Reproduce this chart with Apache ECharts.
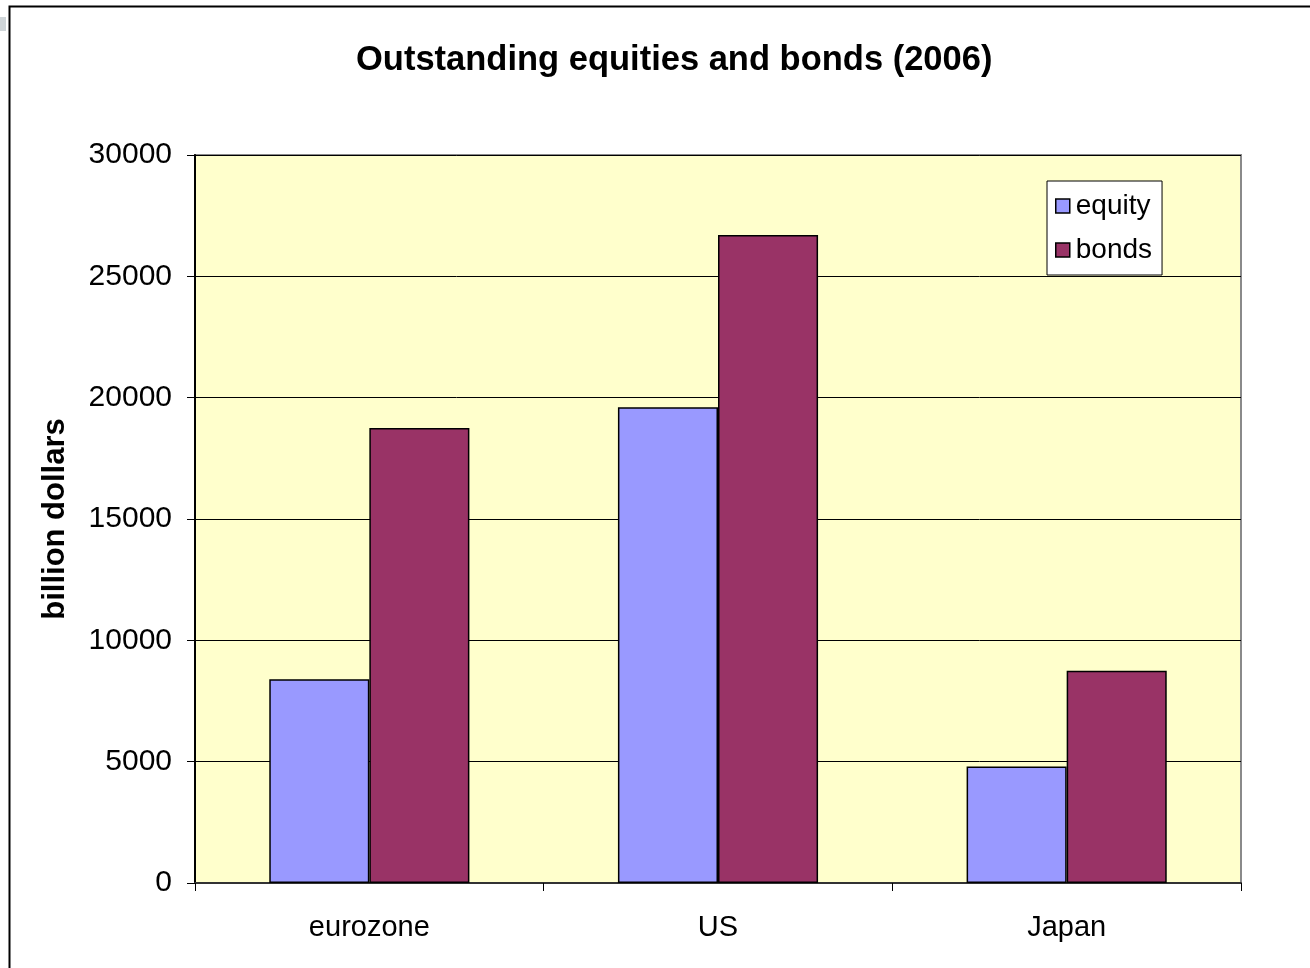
<!DOCTYPE html>
<html>
<head>
<meta charset="utf-8">
<script src="https://cdn.jsdelivr.net/npm/echarts@6/dist/echarts.min.js"></script>
<style>
  html, body { margin: 0; padding: 0; background: #fff; }
  #chart { width: 1310px; height: 968px; }
</style>
</head>
<body>
<div id="chart"></div>
<script>
const regions = ['eurozone', 'US', 'Japan'];
const equity = [8400, 19600, 4800];
const bonds = [18750, 26700, 8750];
const yTicks = { min: 0, max: 30000, interval: 5000 };

const chart = echarts.init(document.getElementById('chart'));
const font = 'Liberation Sans, Arial, sans-serif';

chart.setOption({
    backgroundColor: '#fff',
    animation: false,
    title: {
        text: 'Outstanding equities and bonds (2006)',
        left: 351,
        top: 38,
        textStyle: { fontFamily: font, fontSize: 34.5, fontWeight: 'bold', color: '#000' }
    },
    graphic: [
        { type: 'rect', left: 7, top: 4, shape: { width: 1400, height: 1100 },
          style: { fill: 'none', stroke: '#000', lineWidth: 2 }, z: 100 },
        { type: 'rect', left: 0, top: 17, shape: { width: 6, height: 14 },
          style: { fill: '#cfd5d8' }, z: 100 }
    ],
    legend: {
        orient: 'vertical',
        left: 1047,
        top: 181,
        padding: [11, 10, 11, 8],
        itemGap: 16,
        itemWidth: 14,
        itemHeight: 14,
        borderColor: '#000',
        borderWidth: 1,
        backgroundColor: '#fff',
        textStyle: { fontFamily: font, fontSize: 28, color: '#000', padding: [0, 0, 0, 1] },
        data: [
            { name: 'equity', icon: 'rect', itemStyle: { borderColor: '#000', borderWidth: 1.5 } },
            { name: 'bonds', icon: 'rect', itemStyle: { borderColor: '#000', borderWidth: 1.5 } }
        ]
    },
    grid: {
        left: 195,
        right: 69,
        top: 155,
        bottom: 85,
        show: true,
        backgroundColor: '#FFFFCC',
        borderColor: '#8a8a8a',
        borderWidth: 2
    },
    xAxis: {
        type: 'category',
        data: regions,
        axisLine: { lineStyle: { color: '#333', width: 2 } },
        axisTick: { show: true, length: 8, lineStyle: { color: '#000', width: 1 } },
        axisLabel: { fontFamily: font, fontSize: 29, color: '#000', margin: 30 }
    },
    yAxis: {
        type: 'value',
        min: yTicks.min,
        max: yTicks.max,
        interval: yTicks.interval,
        name: 'billion dollars',
        nameLocation: 'middle',
        nameGap: 124,
        nameTextStyle: { fontFamily: font, fontSize: 31, fontWeight: 'bold', color: '#000' },
        axisLine: { show: true, lineStyle: { color: '#000', width: 2 } },
        axisTick: { show: true, length: 8, lineStyle: { color: '#000' } },
        axisLabel: { fontFamily: font, fontSize: 30, color: '#000', margin: 23,
                     formatter: v => String(v) },
        splitLine: { lineStyle: { color: '#000', width: 1 } }
    },
    series: [
        {
            name: 'equity',
            type: 'bar',
            data: equity,
            barGap: '0%',
            barCategoryGap: '42.6%',
            itemStyle: { color: '#9999FF', borderColor: '#000', borderWidth: 1.5 }
        },
        {
            name: 'bonds',
            type: 'bar',
            data: bonds,
            itemStyle: { color: '#993366', borderColor: '#000', borderWidth: 1.5 }
        }
    ]
});
</script>
</body>
</html>
